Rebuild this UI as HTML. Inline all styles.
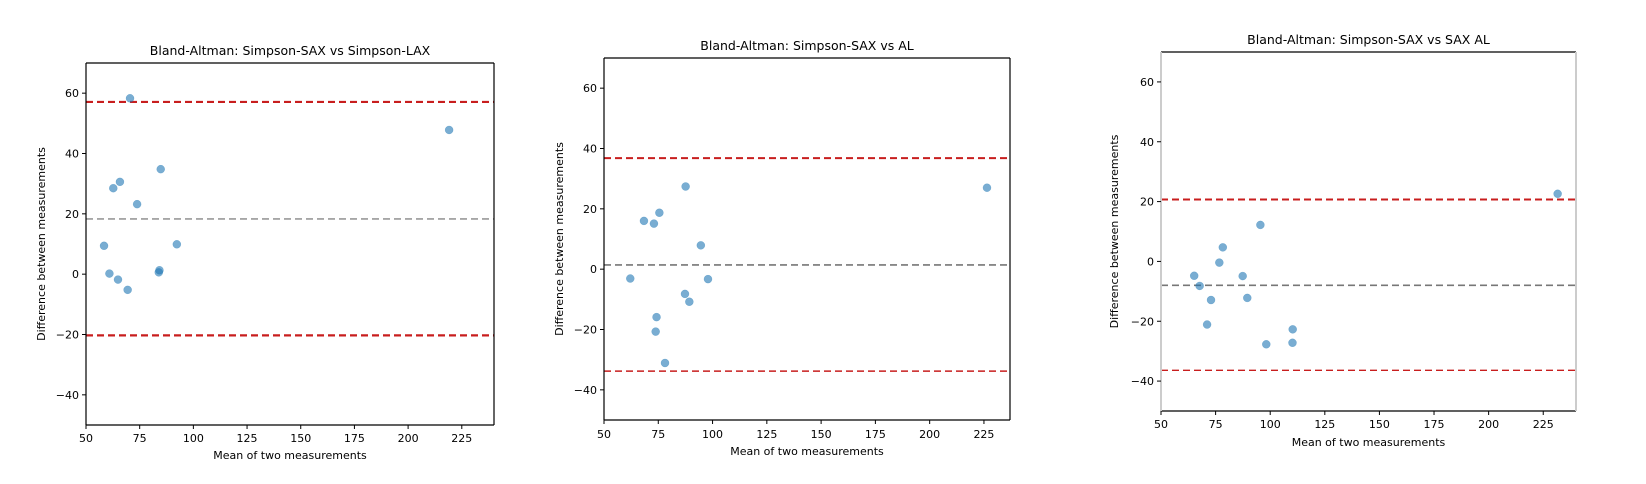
<!DOCTYPE html>
<html><head><meta charset="utf-8">
<style>
html,body{margin:0;padding:0;background:#fff;}
svg{display:block;font-family:"DejaVu Sans","Liberation Sans",sans-serif;}
</style></head>
<body>
<svg id="chart" width="1646" height="484" viewBox="0 0 1646 484" xmlns="http://www.w3.org/2000/svg"></svg>
<script>
// Plot 1: Simpson-SAX vs Simpson-LAX
const lax_means = [58.4, 60.9, 62.7, 65.8, 64.9, 70.5, 69.4, 73.8, 84.8, 83.9, 84.2, 92.3, 219.1];
const lax_diffs = [9.4, 0.2, 28.5, 30.6, -1.8, 58.3, -5.2, 23.2, 34.8, 0.6, 1.3, 9.9, 47.8];
const lax_limits = [57.1, 18.3, -20.3];
// Plot 2: Simpson-SAX vs AL
const al_means = [62.1, 68.4, 73.0, 75.5, 74.2, 73.8, 78.1, 87.6, 87.3, 89.3, 94.6, 97.9, 226.4];
const al_diffs = [-3.1, 16.0, 15.1, 18.7, -15.9, -20.7, -31.1, 27.4, -8.2, -10.8, 7.9, -3.3, 27.0];
const al_limits = [36.8, 1.4, -33.8];
// Plot 3: Simpson-SAX vs SAX AL
const saxal_means = [65.2, 67.7, 72.9, 71.1, 76.7, 78.3, 87.4, 89.5, 95.5, 98.2, 110.3, 110.2, 231.6];
const saxal_diffs = [-4.8, -8.2, -12.9, -21.1, -0.4, 4.7, -4.9, -12.2, 12.2, -27.7, -22.7, -27.2, 22.6];
const saxal_limits = [20.7, -8.0, -36.4];
const xTicks = [50, 75, 100, 125, 150, 175, 200, 225];
const yTicks = [-40, -20, 0, 20, 40, 60];
const titles = ["Bland-Altman: Simpson-SAX vs Simpson-LAX", "Bland-Altman: Simpson-SAX vs AL", "Bland-Altman: Simpson-SAX vs SAX AL"];

const NS = "http://www.w3.org/2000/svg";
const svg = document.getElementById('chart');
function mk(tag, attrs, parent){
  const e = document.createElementNS(NS, tag);
  for (const k in attrs) e.setAttribute(k, attrs[k]);
  (parent || svg).appendChild(e);
  return e;
}
const panels = [
  {L:86, T:63, R:494, B:425, xmax:240, means:lax_means, diffs:lax_diffs, lim:lax_limits, titleY:55, tickY:442, xlabY:459, ylabX:45, side:'#000', upW:2.2, loW:2.2, meanCol:'#999', key:'lax'},
  {L:604, T:58, R:1010, B:420, xmax:237, means:al_means, diffs:al_diffs, lim:al_limits, titleY:50, tickY:438, xlabY:455, ylabX:563, side:'#000', upW:2, loW:1.4, meanCol:'#777', key:'al'},
  {L:1161, T:52, R:1576, B:411, xmax:240, means:saxal_means, diffs:saxal_diffs, lim:saxal_limits, titleY:44, tickY:428, xlabY:446, ylabX:1118, side:'#ccc', upW:2, loW:1.4, meanCol:'#777', key:'saxal'}
];
panels.forEach((p, i) => {
  const g = mk('g', {});
  
  
  const xs = v => p.L + (v - 50) / (p.xmax - 50) * (p.R - p.L);
  const ys = v => p.B - (v + 50) / 120 * (p.B - p.T);
  const names = ['upper-limit-line', 'mean-difference-line', 'lower-limit-line'];
  p.lim.forEach((v, j) => {
    const col = j === 1 ? p.meanCol : '#c81e1e';
    const w = j === 0 ? p.upW : (j === 2 ? p.loW : 1.6);
    const ln = mk('line', {x1:p.L, x2:p.R, y1:ys(v), y2:ys(v), stroke:col, 'stroke-width':w, 'stroke-dasharray':'7,4'}, g);
    
    
  });
  p.means.forEach((m, k) => {
    const c = mk('circle', {cx:xs(m), cy:ys(p.diffs[k]), r:4, fill:'#1f77b4', 'fill-opacity':0.6, stroke:'#1f77b4', 'stroke-opacity':0.4, 'stroke-width':0.5}, g);
    
    
  });
  mk('line', {x1:p.L, x2:p.R, y1:p.T, y2:p.T, stroke:'#000', 'stroke-width':1.2}, g);
  mk('line', {x1:p.L, x2:p.R, y1:p.B, y2:p.B, stroke:'#000', 'stroke-width':1.2}, g);
  mk('line', {x1:p.L, x2:p.L, y1:p.T, y2:p.B, stroke:p.side, 'stroke-width':p.side === '#000' ? 1.2 : 2}, g);
  mk('line', {x1:p.R, x2:p.R, y1:p.T, y2:p.B, stroke:p.side, 'stroke-width':p.side === '#000' ? 1.2 : 2}, g);
  xTicks.forEach(t => {
    const x = xs(t);
    mk('line', {x1:x, x2:x, y1:p.B, y2:p.B + 4, stroke:'#000', 'stroke-width':1}, g);
    const tx = mk('text', {x:x, y:p.tickY, 'font-size':11, 'text-anchor':'middle', fill:'#000'}, g);
    tx.textContent = t;
    
    
  });
  yTicks.forEach(t => {
    const y = ys(t);
    mk('line', {x1:p.L - 4, x2:p.L, y1:y, y2:y, stroke:'#000', 'stroke-width':1}, g);
    const tx = mk('text', {x:p.L - 7, y:y + 4, 'font-size':11, 'text-anchor':'end', fill:'#000'}, g);
    tx.textContent = t < 0 ? '\u2212' + Math.abs(t) : t;
    
    
  });
  const ti = mk('text', {x:(p.L + p.R) / 2, y:p.titleY, 'font-size':12.5, 'text-anchor':'middle', fill:'#000'}, g);
  ti.textContent = titles[i];
  
  
  const xl = mk('text', {x:(p.L + p.R) / 2, y:p.xlabY, 'font-size':11, 'text-anchor':'middle', fill:'#000'}, g);
  xl.textContent = 'Mean of two measurements';
  
  
  const cy = (p.T + p.B) / 2;
  const yl = mk('text', {x:p.ylabX, y:cy, 'font-size':11, 'text-anchor':'middle', fill:'#000', transform:'rotate(-90 ' + p.ylabX + ' ' + cy + ')'}, g);
  yl.textContent = 'Difference between measurements';
  
  
});
</script>
</body></html>
